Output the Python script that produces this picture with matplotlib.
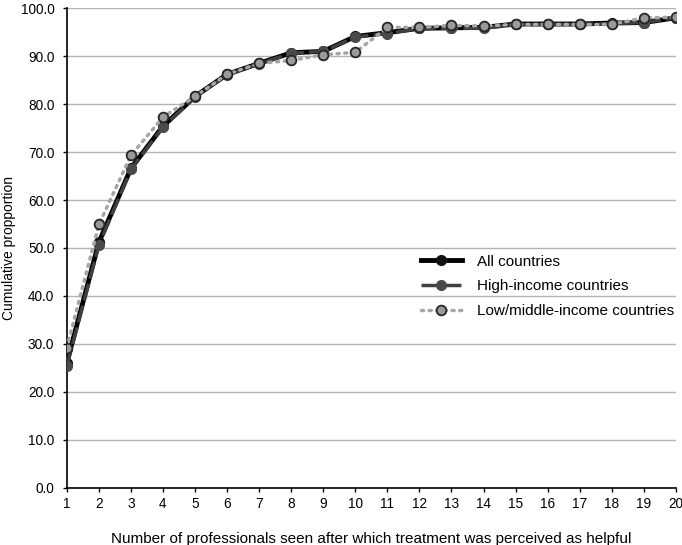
import matplotlib.pyplot as plt
import numpy as np

plt.rcParams["font.family"] = ["Liberation Sans", "DejaVu Sans"]

# Data
professionals = list(range(1, 21))
all_countries = [26.1, 51.2, 66.6, 75.4, 81.6, 86.2, 88.5, 90.7, 91.0, 94.1,
                 94.9, 95.8, 95.9, 96.0, 96.7, 96.7, 96.7, 96.9, 97.0, 98.0]
high_income = [25.4, 50.6, 66.4, 75.2, 81.5, 86.1, 88.4, 90.6, 91.0, 94.0,
               94.7, 95.8, 95.8, 95.8, 96.6, 96.6, 96.6, 96.8, 97.0, 98.0]
low_middle = [29.2, 54.9, 69.3, 77.3, 81.6, 86.2, 88.5, 89.1, 90.3, 90.8,
              96.0, 96.0, 96.4, 96.3, 96.6, 96.6, 96.6, 96.6, 98.0, 98.1]
y_ticks = np.arange(0, 101, 10)

fig = plt.figure(figsize=(6.82, 5.45), dpi=100)
ax = fig.add_axes([0.098, 0.105, 0.893, 0.88])

ax.plot(professionals, all_countries, color="black", linewidth=3.5,
        marker="o", markersize=7, markerfacecolor="#111111",
        markeredgecolor="#111111", label="All countries", zorder=3)
ax.plot(professionals, high_income, color="#404040", linewidth=2.5,
        linestyle=(0, (5, 1.5)), marker="o", markersize=7,
        markerfacecolor="#4a4a4a", markeredgecolor="#4a4a4a",
        label="High-income countries", zorder=4)
ax.plot(professionals, low_middle, color="#a6a6a6", linewidth=2.5,
        linestyle=(0, (0.6, 1.6)), dash_capstyle="round", marker="o",
        markersize=7, markerfacecolor="#9a9a9a", markeredgecolor="#262626",
        markeredgewidth=1.3, label="Low/middle-income countries", zorder=5)

ax.set_xlim(1, 20)
ax.set_ylim(0, 100)
ax.set_xticks(professionals)
ax.set_yticks(y_ticks)
ax.set_yticklabels([f"{v:.1f}" for v in y_ticks])
ax.tick_params(direction="out", length=3, width=1, labelsize=9.8, colors="black")
ax.tick_params(axis="y", pad=6)
ax.tick_params(axis="x", pad=4)
ax.yaxis.grid(True, color="#b3b3b3", linewidth=1)
ax.set_axisbelow(True)
for side in ["top", "right"]:
    ax.spines[side].set_visible(False)
for side in ["left", "bottom"]:
    ax.spines[side].set_linewidth(1.2)

ax.set_xlabel("Number of professionals seen after which treatment was perceived as helpful",
              fontsize=11, labelpad=15)
ax.set_ylabel("Cumulative propportion", fontsize=10, labelpad=3)

ax.legend(loc="center right", bbox_to_anchor=(1.02, 0.42), frameon=False,
          fontsize=11, handlelength=2.7, handletextpad=1.0, labelspacing=0.7)

fig.savefig("out.png", dpi=100)
